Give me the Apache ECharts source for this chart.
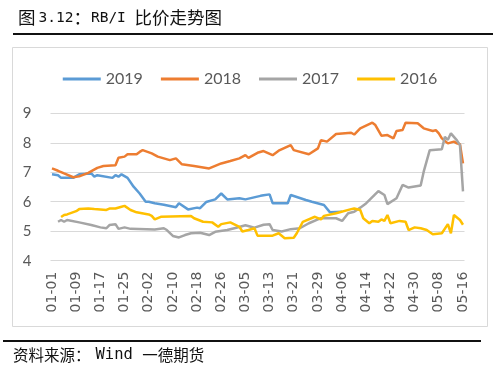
<!DOCTYPE html>
<html>
<head>
<meta charset="utf-8">
<script src="https://cdn.jsdelivr.net/npm/echarts@6/dist/echarts.min.js"></script>
<style>
html,body{margin:0;padding:0;background:#fff;}
#chart{width:500px;height:380px;}
</style>
</head>
<body>
<div id="chart"></div>
<script>
// ---- data ----
const monthLengths = [31, 29, 31, 30, 16];
const categories = [];
monthLengths.forEach(function (n, m) {
  for (let d = 1; d <= n; d++) {
    categories.push(String(m + 1).padStart(2, '0') + '-' + String(d).padStart(2, '0'));
  }
});
const seriesNames = ['2019', '2018', '2017', '2016'];
const yTicks = [4, 5, 6, 7, 8, 9];

const y2019 = [
['01-01',6.93],['01-03',6.9],['01-04',6.81],['01-08',6.81],['01-10',6.93],['01-14',6.96],['01-15',6.85],['01-16',6.9],['01-21',6.81],['01-22',6.9],['01-23',6.85],['01-24',6.93],['01-26',6.81],['01-28',6.51],['01-30',6.28],['02-01',6.0],['02-02',6.0],['02-04',5.95],['02-07',5.9],['02-11',5.81],['02-12',5.95],['02-15',5.74],['02-18',5.8],['02-19',5.78],['02-21',5.99],['02-24',6.08],['02-26',6.28],['02-28',6.08],['03-03',6.12],['03-05',6.08],['03-10',6.2],['03-11',6.22],['03-13',6.25],['03-14',5.95],['03-19',5.95],['03-20',6.23],['03-25',6.06],['03-27',6.0],['03-31',5.89],['04-02',5.64],['04-06',5.66]
];
const y2018 = [
['01-01',7.13],['01-03',7.05],['01-05',6.96],['01-08',6.83],['01-10',6.86],['01-13',6.98],['01-16',7.15],['01-18',7.21],['01-22',7.24],['01-23',7.49],['01-25',7.53],['01-26',7.61],['01-29',7.61],['01-30',7.69],['01-31',7.75],['02-03',7.64],['02-05',7.53],['02-07',7.47],['02-09',7.41],['02-11',7.47],['02-13',7.27],['02-17',7.21],['02-22',7.13],['02-26',7.3],['02-29',7.38],['03-03',7.47],['03-05',7.58],['03-06',7.49],['03-09',7.66],['03-11',7.72],['03-14',7.58],['03-16',7.73],['03-20',7.92],['03-21',7.75],['03-26',7.61],['03-29',7.81],['03-30',8.09],['04-01',8.04],['04-04',8.3],['04-09',8.34],['04-10',8.28],['04-12',8.49],['04-16',8.68],['04-17',8.6],['04-19',8.24],['04-21',8.26],['04-23',8.15],['04-24',8.4],['04-26',8.43],['04-27',8.68],['05-01',8.66],['05-03',8.49],['05-06',8.4],['05-07',8.43],['05-08',8.32],['05-09',8.15],['05-11',7.98],['05-13',8.04],['05-14',7.98],['05-15',7.95],['05-16',7.3]
];
const y2017 = [
['01-03',5.32],['01-04',5.38],['01-05',5.32],['01-06',5.38],['01-10',5.3],['01-14',5.21],['01-17',5.13],['01-19',5.1],['01-20',5.21],['01-22',5.24],['01-23',5.08],['01-25',5.13],['01-27',5.08],['02-04',5.06],['02-07',5.1],['02-08',5.04],['02-10',4.84],['02-12',4.79],['02-14',4.87],['02-16',4.93],['02-19',4.95],['02-22',4.87],['02-24',4.98],['02-28',5.04],['03-02',5.12],['03-05',5.2],['03-08',5.12],['03-11',5.22],['03-13',5.24],['03-14',5.04],['03-17',4.99],['03-20',5.07],['03-23',5.1],['03-26',5.27],['03-29',5.4],['03-30',5.44],['04-04',5.44],['04-06',5.35],['04-08',5.61],['04-10',5.66],['04-12',5.8],['04-14',5.95],['04-18',6.36],['04-20',6.23],['04-21',5.92],['04-24',6.12],['04-26',6.57],['04-28',6.48],['05-02',6.55],['05-03',7.02],['05-05',7.75],['05-09',7.78],['05-10',8.2],['05-11',8.1],['05-12',8.32],['05-14',8.08],['05-15',7.92],['05-16',6.35]
];
const y2016 = [
['01-04',5.48],['01-05',5.55],['01-06',5.57],['01-09',5.68],['01-10',5.75],['01-13',5.77],['01-15',5.75],['01-19',5.72],['01-20',5.77],['01-22',5.77],['01-24',5.83],['01-25',5.86],['01-27',5.72],['01-29',5.64],['02-02',5.57],['02-03',5.52],['02-04',5.4],['02-06',5.49],['02-16',5.52],['02-17',5.44],['02-20',5.32],['02-23',5.3],['02-25',5.15],['02-26',5.24],['02-29',5.3],['03-03',5.15],['03-04',4.99],['03-06',5.04],['03-08',5.1],['03-09',4.85],['03-14',4.85],['03-16',4.93],['03-18',4.76],['03-21',4.78],['03-22',4.93],['03-24',5.32],['03-28',5.49],['03-30',5.4],['03-31',5.52],['04-04',5.61],['04-09',5.75],['04-10',5.77],['04-12',5.72],['04-13',5.44],['04-15',5.27],['04-16',5.35],['04-18',5.32],['04-19',5.4],['04-20',5.35],['04-21',5.55],['04-22',5.27],['04-25',5.35],['04-27',5.32],['04-28',5.04],['04-30',5.13],['05-02',5.1],['05-04',5.04],['05-06',4.9],['05-09',4.93],['05-11',5.24],['05-12',4.93],['05-13',5.55],['05-15',5.38],['05-16',5.22]
];

const colors = ['#5B9BD5', '#ED7D31', '#A5A5A5', '#FFC000'];
const seriesData = [y2019, y2018, y2017, y2016];

const chart = echarts.init(document.getElementById('chart'), null, {renderer: 'canvas'});
const labelFont = 'Lato, "Noto Sans", sans-serif';
const cjk = '"Noto Sans CJK SC"';
const mono = '"DejaVu Sans Mono", monospace';

chart.setOption({
  animation: false,
  backgroundColor: '#ffffff',
  color: colors,
  graphic: [
    {type: 'text', left: 18, top: 9, style: {
      text: '{c|图}{p|3.12}{c|：}{l|RB/I }{c|比价走势图}',
      fill: '#111',
      rich: {
        c: {fontFamily: cjk, fontSize: 17.5, fill: '#111', lineHeight: 20},
        p: {fontFamily: mono, fontSize: 14.5, fill: '#111', lineHeight: 20, padding: [0, 0, 0, 3]},
        l: {fontFamily: mono, fontSize: 14.5, fill: '#111', lineHeight: 20}
      }
    }},
    {type: 'line', shape: {x1: 13, y1: 34, x2: 493, y2: 34}, style: {stroke: '#111', lineWidth: 2}},
    {type: 'rect', shape: {x: 12.5, y: 47.5, width: 475, height: 279}, style: {fill: 'none', stroke: '#d9d9d9', lineWidth: 1}},
    {type: 'line', shape: {x1: 3, y1: 341, x2: 481, y2: 341}, style: {stroke: '#111', lineWidth: 2}},
    {type: 'text', left: 13, top: 347, style: {
      text: '{c|资料来源：}{l|Wind }{c|一德期货}',
      fill: '#111',
      rich: {
        c: {fontFamily: cjk, fontSize: 15.5, fill: '#111', lineHeight: 20},
        l: {fontFamily: mono, fontSize: 15.5, fill: '#111', lineHeight: 20, padding: [0, 0, 0, 5]}
      }
    }}
  ],
  legend: {
    data: seriesNames,
    left: 'center',
    top: 66,
    icon: 'rect',
    itemWidth: 38,
    itemHeight: 3,
    itemGap: 18,
    textStyle: {fontSize: 16, color: '#595959', fontFamily: labelFont}
  },
  grid: {left: 50.5, top: 113.3, width: 414, height: 147.4, containLabel: false},
  xAxis: {
    type: 'category',
    data: categories,
    boundaryGap: true,
    axisLine: {show: false},
    axisTick: {show: false},
    axisLabel: {
      interval: 7,
      rotate: 90,
      margin: 11,
      fontSize: 14,
      color: '#595959',
      fontFamily: '"DejaVu Sans", sans-serif'
    },
    splitLine: {show: false}
  },
  yAxis: {
    type: 'value',
    min: yTicks[0],
    max: yTicks[yTicks.length - 1],
    interval: 1,
    axisLine: {show: false},
    axisTick: {show: false},
    axisLabel: {fontSize: 15, color: '#595959', margin: 19, fontFamily: labelFont},
    splitLine: {lineStyle: {color: '#d9d9d9', width: 1}}
  },
  series: seriesNames.map(function (name, i) {
    return {
      name: name,
      type: 'line',
      data: seriesData[i],
      showSymbol: false,
      symbol: 'none',
      lineStyle: {width: 2.5, color: colors[i]},
      itemStyle: {color: colors[i]}
    };
  })
});
</script>
</body>
</html>
